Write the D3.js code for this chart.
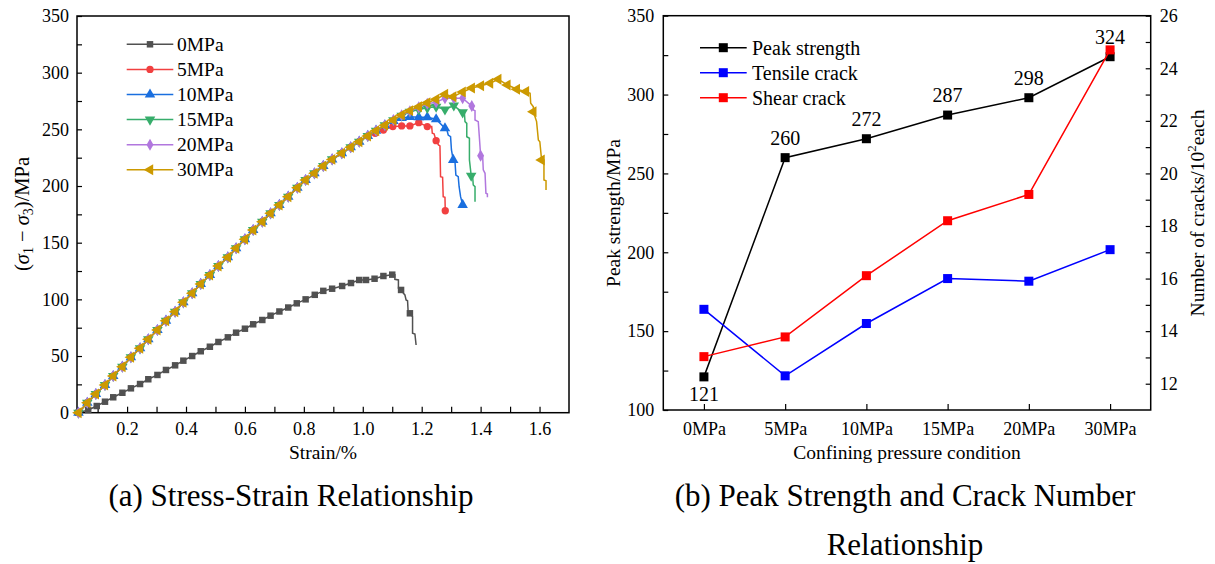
<!DOCTYPE html>
<html>
<head>
<meta charset="utf-8">
<script src="https://cdn.jsdelivr.net/npm/d3@7"></script>
<style>
  html, body { margin: 0; padding: 0; background: #fff; }
  svg text { font-family: "Liberation Serif", "Times New Roman", serif; fill: #000; }
</style>
</head>
<body>
<svg id="chart" width="1215" height="564"></svg>
<script>
// ---------- data: (a) stress-strain curves, [strain %, deviator stress MPa] ----------
const strainTicks = [0.2, 0.4, 0.6, 0.8, 1.0, 1.2, 1.4, 1.6];
const strainMinor = [0.1, 0.3, 0.5, 0.7, 0.9, 1.1, 1.3, 1.5];
const stressTicks = [0, 50, 100, 150, 200, 250, 300, 350];
const stressMinor = [25, 75, 125, 175, 225, 275, 325];

// 0MPa (unconfined)
const pre0 = [[0.035,0],[0.068,2.4],[0.097,5.9],[0.125,9.7],[0.153,13.6],[0.184,17.6],[0.213,21.5],[0.244,25.3],
  [0.272,29.5],[0.303,33.3],[0.332,37.7],[0.363,41.8],[0.391,45.9],[0.421,50.0],[0.450,54.2],[0.481,58.2],
  [0.510,62.4],[0.542,66.5],[0.570,70.6],[0.600,74.1],[0.628,78.0],[0.659,81.8],[0.687,85.6],[0.717,89.3],
  [0.747,92.8],[0.776,96.5],[0.806,100.0],[0.837,104.0],[0.866,107.5],[0.896,109.4],[0.930,111.8],
  [0.960,114.4],[0.988,117.1],[1.011,117.1],[1.040,118.2],[1.070,120.6],[1.100,121.8]];
const tail0 = [[1.109,121.8],[1.109,117.7],[1.121,117.1],[1.121,109.8],[1.130,108.3],[1.138,105.4],[1.143,103.9],
  [1.147,99.4],[1.152,98.8],[1.154,89.1],[1.160,87.7],[1.165,86.2],[1.169,84.7],[1.169,70.1],[1.177,69.4],[1.181,59.7]];
const marks0 = [[1.130,108.3],[1.160,87.7]];

// confined curves share the same pre-peak branch
const preConfined = [[0.035,0],[0.065,8.8],[0.094,16.5],[0.125,24.4],[0.153,32.4],[0.184,40.6],[0.213,48.9],
  [0.244,56.8],[0.272,64.8],[0.303,73.0],[0.332,81.2],[0.363,89.1],[0.391,97.4],[0.421,105.4],[0.450,113.6],
  [0.481,121.5],[0.510,129.4],[0.542,137.1],[0.570,145.1],[0.600,153.0],[0.628,161.2],[0.659,168.5],
  [0.687,175.9],[0.717,183.3],[0.747,190.6],[0.778,198.5],[0.806,205.3],[0.836,211.2],[0.866,217.7],
  [0.896,223.5],[0.929,228.9],[0.959,234.2],[0.988,239.1],[1.017,244.2]];

// 5MPa
const pre5 = [[1.042,246.5],[1.070,249.4],[1.102,252.4],[1.132,253.0],[1.160,253.0],[1.190,255.9],[1.219,252.4]];
const tail5 = [[1.234,252.4],[1.236,246.5],[1.242,246.0],[1.249,240.0],[1.257,236.2],[1.262,235.3],[1.264,208.2],
  [1.271,207.7],[1.273,190.6],[1.279,190.0],[1.280,178.2]];
const marks5 = [[1.249,240.0],[1.280,178.2]];

// 10MPa
const pre10 = [[1.045,248.8],[1.075,253.6],[1.104,257.5],[1.132,260.0],[1.160,261.0],[1.190,260.6],[1.219,260.6],
  [1.249,258.9],[1.279,250.9]];
const tail10 = [[1.285,250.3],[1.290,245.0],[1.298,243.5],[1.301,231.8],[1.307,223.0],[1.313,221.5],[1.316,209.7],
  [1.324,208.2],[1.327,199.4],[1.332,190.6],[1.339,183.3]];
const marks10 = [[1.307,223.0],[1.339,183.3]];

// 15MPa
const pre15 = [[1.045,248.8],[1.075,253.6],[1.104,258.0],[1.132,262.0],[1.160,265.5],[1.190,267.5],[1.219,269.0],
  [1.249,270.0],[1.279,267.5],[1.309,271.0],[1.339,265.0]];
const tail15 = [[1.345,264.2],[1.347,256.8],[1.353,255.3],[1.353,243.5],[1.362,242.1],[1.362,223.0],[1.368,209.1],
  [1.373,208.2],[1.375,200.9],[1.381,199.4],[1.381,186.2]];
const marks15 = [[1.368,209.1]];

// 20MPa
const pre20 = [[1.045,248.8],[1.075,253.6],[1.104,258.3],[1.132,262.5],[1.160,266.0],[1.190,269.5],[1.219,272.5],
  [1.249,274.0],[1.279,277.4],[1.309,277.4],[1.339,277.4],[1.370,270.6]];
const tail20 = [[1.375,270.0],[1.375,267.1],[1.381,266.5],[1.381,258.3],[1.392,256.8],[1.396,242.1],[1.400,226.8],
  [1.407,225.9],[1.409,214.2],[1.415,211.2],[1.418,193.6],[1.423,193.0],[1.423,190.0]];
const marks20 = [[1.400,226.8]];

// 30MPa
const pre30 = [[1.045,248.8],[1.075,253.6],[1.104,258.3],[1.132,262.7],[1.160,266.5],[1.190,270.0],[1.219,273.5],
  [1.249,276.5],[1.279,280.9],[1.307,278.8],[1.339,283.0],[1.370,286.5],[1.401,288.5],[1.432,290.6],
  [1.460,294.2],[1.491,289.2],[1.523,285.4],[1.554,283.3]];
const tail30 = [[1.568,281.8],[1.570,273.0],[1.579,270.0],[1.579,265.6],[1.590,256.8],[1.596,240.6],[1.601,239.1],
  [1.607,223.0],[1.615,223.0],[1.615,205.3],[1.622,204.7],[1.622,196.5]];
const marks30 = [[1.579,265.6],[1.607,223.0]];

// ---------- data: (b) peak strength and crack number ----------
const pressures = ['0MPa', '5MPa', '10MPa', '15MPa', '20MPa', '30MPa'];
const peakStrength = [121, 260, 272, 287, 298, 324];
const tensileCrack = [14.83, 12.30, 14.29, 16.00, 15.90, 17.10];
const shearCrack = [13.03, 13.78, 16.11, 18.20, 19.20, 24.70];
const strengthTicks = [100, 150, 200, 250, 300, 350];
const strengthMinor = [125, 175, 225, 275, 325];
const crackTicks = [12, 14, 16, 18, 20, 22, 24, 26];
const crackMinor = [13, 15, 17, 19, 21, 23, 25];

const svg = d3.select('#chart');

function styleAxis(g, size) {
    g.select('.domain').remove();
    g.selectAll('line').attr('stroke', '#000').attr('stroke-width', 1.2);
    g.selectAll('text').attr('font-size', size || 18);
}

// ================= (a) stress-strain =================
const xL = d3.scaleLinear().domain([0.03, 1.7]).range([77, 569]);
const yL = d3.scaleLinear().domain([0, 350]).range([412.7, 16]);
const left = svg.append('g');

left.append('g').attr('transform', 'translate(77,0)')
    .call(d3.axisLeft(yL).tickValues(stressTicks).tickSizeInner(-5).tickSizeOuter(0).tickPadding(8))
    .call(styleAxis);
left.append('g').attr('transform', 'translate(77,0)')
    .call(d3.axisLeft(yL).tickValues(stressMinor).tickSizeInner(-5).tickSizeOuter(0).tickFormat(''))
    .call(styleAxis);
left.append('g').attr('transform', 'translate(0,412.7)')
    .call(d3.axisBottom(xL).tickValues(strainTicks).tickSizeInner(-6).tickSizeOuter(0).tickPadding(10)
        .tickFormat(d3.format('.1f')))
    .call(styleAxis);
left.append('g').attr('transform', 'translate(0,412.7)')
    .call(d3.axisBottom(xL).tickValues(strainMinor).tickSizeInner(-6).tickSizeOuter(0).tickFormat(''))
    .call(styleAxis);

left.append('rect').attr('x', 77).attr('y', 16).attr('width', 492).attr('height', 396.7)
    .attr('fill', 'none').attr('stroke', '#000').attr('stroke-width', 1.5);

const curves = [
    { name: '0MPa',  color: '#515151', shape: d3.symbolSquare,   size: 42, rot: 0,   pre: pre0, tail: tail0, marks: marks0 },
    { name: '5MPa',  color: '#F14040', shape: d3.symbolCircle,   size: 42, rot: 0,   pre: preConfined.concat(pre5),  tail: tail5,  marks: marks5 },
    { name: '10MPa', color: '#1A6FDF', shape: d3.symbolTriangle, size: 48, rot: 0,   pre: preConfined.concat(pre10), tail: tail10, marks: marks10 },
    { name: '15MPa', color: '#37AD6B', shape: d3.symbolTriangle, size: 48, rot: 180, pre: preConfined.concat(pre15), tail: tail15, marks: marks15 },
    { name: '20MPa', color: '#B177DE', shape: d3.symbolDiamond,  size: 42, rot: 0,   pre: preConfined.concat(pre20), tail: tail20, marks: marks20 },
    { name: '30MPa', color: '#CC9900', shape: d3.symbolTriangle, size: 52, rot: -90, pre: preConfined.concat(pre30), tail: tail30, marks: marks30 }
];

const lineL = d3.line().x(d => xL(d[0])).y(d => yL(d[1]));

curves.forEach((c) => {
    left.append('path')
        .datum(c.pre.concat(c.tail))
        .attr('d', lineL)
        .attr('fill', 'none')
        .attr('stroke', c.color)
        .attr('stroke-width', 1.5);
    left.selectAll(null)
        .data(c.pre.concat(c.marks))
        .enter()
        .append('path')
        .attr('d', d3.symbol(c.shape, c.size))
        .attr('transform', (d) => `translate(${xL(d[0])},${yL(d[1])}) rotate(${c.rot})`)
        .attr('fill', c.color);
});

// legend (a)
curves.forEach((c, i) => {
    const y = 44.3 + i * 25.1;
    left.append('line').attr('x1', 126.7).attr('x2', 173.3).attr('y1', y).attr('y2', y)
        .attr('stroke', c.color).attr('stroke-width', 1.5);
    left.append('path').attr('d', d3.symbol(c.shape, c.size))
        .attr('transform', `translate(150,${y}) rotate(${c.rot})`).attr('fill', c.color);
    left.append('text').attr('x', 177).attr('y', y + 6.5).attr('font-size', 19.5).text(c.name);
});

// axis titles (a)
left.append('text').attr('x', 323).attr('y', 459).attr('text-anchor', 'middle').attr('font-size', 19.5).text('Strain/%');
const yt = left.append('text').attr('transform', 'translate(29,214) rotate(-90)')
    .attr('text-anchor', 'middle').attr('font-size', 20.5);
yt.append('tspan').text('(');
yt.append('tspan').attr('font-style', 'italic').text('σ');
yt.append('tspan').attr('font-size', 14).attr('dy', 4).text('1');
yt.append('tspan').attr('dy', -4).text(' − ');
yt.append('tspan').attr('font-style', 'italic').text('σ');
yt.append('tspan').attr('font-size', 14).attr('dy', 4).text('3');
yt.append('tspan').attr('dy', -4).text(')/MPa');

left.append('text').attr('x', 291).attr('y', 506).attr('text-anchor', 'middle').attr('font-size', 31)
    .text('(a) Stress-Strain Relationship');

// ================= (b) peak strength & cracks =================
const xR = d3.scalePoint().domain(pressures).range([663.3, 1150.7]).padding(0.5);
const yR = d3.scaleLinear().domain([100, 350]).range([410, 15.7]);
const yC = d3.scaleLinear().domain([11, 26]).range([410, 15.7]);
const right = svg.append('g');

right.append('g').attr('transform', 'translate(663.3,0)')
    .call(d3.axisLeft(yR).tickValues(strengthTicks).tickSizeInner(-5).tickSizeOuter(0).tickPadding(9))
    .call(styleAxis);
right.append('g').attr('transform', 'translate(663.3,0)')
    .call(d3.axisLeft(yR).tickValues(strengthMinor).tickSizeInner(-5).tickSizeOuter(0).tickFormat(''))
    .call(styleAxis);
right.append('g').attr('transform', 'translate(1150.7,0)')
    .call(d3.axisRight(yC).tickValues(crackTicks).tickSizeInner(-5).tickSizeOuter(0).tickPadding(9))
    .call(styleAxis);
right.append('g').attr('transform', 'translate(1150.7,0)')
    .call(d3.axisRight(yC).tickValues(crackMinor).tickSizeInner(-5).tickSizeOuter(0).tickFormat(''))
    .call(styleAxis);
right.append('g').attr('transform', 'translate(0,410)')
    .call(d3.axisBottom(xR).tickSizeInner(-6).tickSizeOuter(0).tickPadding(12))
    .call(styleAxis);

right.append('rect').attr('x', 663.3).attr('y', 15.7).attr('width', 487.4).attr('height', 394.3)
    .attr('fill', 'none').attr('stroke', '#000').attr('stroke-width', 1.5);

const groups = [
    { name: 'Peak strength', color: '#000000', values: peakStrength, y: yR },
    { name: 'Tensile crack', color: '#0000FF', values: tensileCrack, y: yC },
    { name: 'Shear crack',   color: '#FF0000', values: shearCrack,   y: yC }
];

groups.forEach((s) => {
    const ln = d3.line().x((d, i) => xR(pressures[i])).y(d => s.y(d));
    right.append('path').datum(s.values).attr('d', ln)
        .attr('fill', 'none').attr('stroke', s.color).attr('stroke-width', 1.5);
    right.selectAll(null).data(s.values).enter().append('rect')
        .attr('x', (d, i) => xR(pressures[i]) - 4.5)
        .attr('y', d => s.y(d) - 4.5)
        .attr('width', 9).attr('height', 9)
        .attr('fill', s.color);
});

// peak value labels
right.selectAll(null).data(peakStrength).enter().append('text')
    .attr('x', (d, i) => xR(pressures[i]))
    .attr('y', (d, i) => yR(d) + (i === 0 ? 24 : -13))
    .attr('text-anchor', 'middle').attr('font-size', 20)
    .text(d => d);

// legend (b)
groups.forEach((s, i) => {
    const y = 47.7 + i * 25;
    right.append('line').attr('x1', 700).attr('x2', 746.7).attr('y1', y).attr('y2', y)
        .attr('stroke', s.color).attr('stroke-width', 1.5);
    right.append('rect').attr('x', 723.3 - 4.5).attr('y', y - 4.5).attr('width', 9).attr('height', 9)
        .attr('fill', s.color);
    right.append('text').attr('x', 752).attr('y', y + 7).attr('font-size', 20).text(s.name);
});

// axis titles (b)
right.append('text').attr('x', 907).attr('y', 459).attr('text-anchor', 'middle').attr('font-size', 19.5)
    .text('Confining pressure condition');
right.append('text').attr('transform', 'translate(620,213) rotate(-90)').attr('text-anchor', 'middle')
    .attr('font-size', 19.5).text('Peak strength/MPa');
const rt = right.append('text').attr('transform', 'translate(1204,213) rotate(-90)')
    .attr('text-anchor', 'middle').attr('font-size', 19.5);
rt.append('tspan').text('Number of cracks/10');
rt.append('tspan').attr('font-size', 13).attr('dy', -8).text('2');
rt.append('tspan').attr('dy', 8).text('each');

right.append('text').attr('x', 905).attr('y', 506).attr('text-anchor', 'middle').attr('font-size', 31)
    .text('(b) Peak Strength and Crack Number');
right.append('text').attr('x', 905).attr('y', 555).attr('text-anchor', 'middle').attr('font-size', 31)
    .text('Relationship');
</script>
</body>
</html>
